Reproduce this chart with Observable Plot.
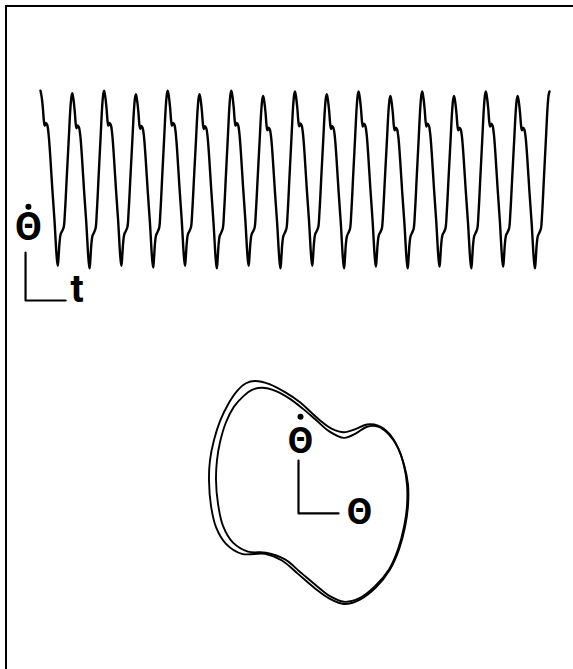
<!DOCTYPE html>
<html>
<head>
<meta charset="utf-8">
<script src="https://cdn.jsdelivr.net/npm/d3@7"></script>
<script src="https://cdn.jsdelivr.net/npm/@observablehq/plot@0.6"></script>
<style>
  body { margin: 0; background: #fff; }
  #fig { position: relative; width: 573px; height: 669px; overflow: hidden; background: #fff; }
  #frame { position: absolute; left: 5px; top: 5px; right: -5px; bottom: -5px;
           border-top: 2px solid #000; border-left: 2px solid #000; }
  #trace { position: absolute; left: 0; top: 0; }
  #phase { position: absolute; left: 0; top: 320px; }
  svg text { font-family: Roboto, "Liberation Sans", Arial, sans-serif; }
</style>
</head>
<body>
<div id="fig">
  <div id="frame"></div>
  <div id="trace"></div>
  <div id="phase"></div>
</div>
<script>
// ---- Angular velocity record, θ̇(t); time in oscillation periods ----
// peak value at each integer time t = 0 … 16
const cyclePeaks = [1.01, 0.98, 1.01, 0.97, 1.01, 0.97, 1.01, 0.95, 1.00, 0.97, 1.00, 0.95, 1.00, 0.95, 1.00, 0.95, 1.00];
// trough value inside each period k (between peak k and peak k+1)
const cycleTroughs = [-0.98, -1.01, -0.98, -1.00, -0.98, -1.01, -0.98, -1.01, -0.98, -1.01, -0.99, -1.01, -0.99, -1.01, -0.99, -1.01];
// shape of one period: phase within the period, and how far the value has
// travelled from the peak toward the trough (0 = peak, 1 = trough)
const shapePhase = [0.000, 0.040, 0.075, 0.110, 0.135, 0.170, 0.210, 0.250, 0.300, 0.370, 0.440, 0.490, 0.520, 0.545,
                    0.570, 0.600, 0.635, 0.680, 0.730, 0.770, 0.830, 0.890, 0.940, 0.975];
const shapeDepth = [0.000, 0.040, 0.100, 0.178, 0.200, 0.184, 0.195, 0.241, 0.356, 0.557, 0.741, 0.902, 0.971, 1.000,
                    0.943, 0.862, 0.816, 0.799, 0.776, 0.684, 0.471, 0.259, 0.086, 0.017];
const troughIndex = shapeDepth.indexOf(1);

// ---- Phase portrait, θ̇ against θ: two successive turns of the limit cycle ----
const outerTheta = [-0.53, -0.38, -0.23, -0.08, 0.03, 0.13, 0.24, 0.36, 0.48, 0.59, 0.70, 0.81, 0.90, 0.96, 1.00, 1.00,
                    0.97, 0.91, 0.82, 0.68, 0.52, 0.36, 0.21, 0.07, -0.10, -0.26, -0.43, -0.66, -0.82, -0.92, -0.97,
                    -0.99, -0.98, -0.94, -0.88, -0.80, -0.71, -0.62];
const outerThetaDot = [1.00, 0.97, 0.90, 0.81, 0.72, 0.64, 0.57, 0.54, 0.57, 0.61, 0.60, 0.53, 0.40, 0.25, 0.07, -0.12,
                       -0.31, -0.51, -0.69, -0.85, -0.96, -1.00, -0.95, -0.86, -0.73, -0.61, -0.55, -0.55, -0.46, -0.31,
                       -0.12, 0.11, 0.29, 0.47, 0.64, 0.79, 0.91, 0.98];
const innerTheta = [-0.46, -0.32, -0.18, -0.05, 0.08, 0.21, 0.36, 0.48, 0.59, 0.70, 0.81, 0.90, 0.96, 0.99, 0.99, 0.96,
                    0.90, 0.81, 0.67, 0.51, 0.36, 0.22, 0.09, -0.07, -0.23, -0.42, -0.60, -0.75, -0.85, -0.90, -0.92,
                    -0.91, -0.88, -0.82, -0.74, -0.65, -0.56];
const innerThetaDot = [0.94, 0.91, 0.84, 0.75, 0.65, 0.55, 0.49, 0.53, 0.59, 0.59, 0.52, 0.40, 0.24, 0.07, -0.12, -0.31,
                       -0.51, -0.69, -0.84, -0.95, -0.98, -0.93, -0.84, -0.72, -0.60, -0.54, -0.53, -0.45, -0.30, -0.10,
                       0.11, 0.29, 0.45, 0.63, 0.77, 0.86, 0.92];

// ---- Axis keys (short L-shaped bars in place of full axes) ----
const traceKey = { t: [-0.47, -0.47, 0.79], v: [-0.83, -1.375, -1.375] };
const traceLabels = [{ t: -0.38, v: -0.54, text: "Θ" }, { t: 1.15, v: -1.25, text: "t" }];
const traceOverdot = [{ t: -0.38, v: -0.31 }];
const phaseKey = { th: [-0.095, -0.095, 0.305], w: [0.287, -0.188, -0.188] };
const phaseLabels = [{ th: -0.075, w: 0.46, text: "Θ" }, { th: 0.515, w: -0.18, text: "Θ" }];
const phaseOverdot = [{ th: -0.075, w: 0.68 }];

// build the time series from the per-period extremes and the period shape
const series = [];
cycleTroughs.forEach((trough, k) => {
  shapePhase.forEach((p, i) => {
    const from = i <= troughIndex ? cyclePeaks[k] : cyclePeaks[k + 1];
    series.push({ t: k + p, v: from + shapeDepth[i] * (trough - from) });
  });
});
series.push({ t: cycleTroughs.length, v: cyclePeaks[cycleTroughs.length] });

const zip = (a, b) => a.map((x, i) => ({ th: x, w: b[i] }));
const outerLoop = zip(outerTheta, outerThetaDot);
const innerLoop = zip(innerTheta, innerThetaDot);
const zipKey = (a, b, ka, kb) => a.map((x, i) => ({ [ka]: x, [kb]: b[i] }));

const tracePlot = Plot.plot({
  width: 573, height: 320,
  marginLeft: 40, marginRight: 24, marginTop: 91, marginBottom: 53,
  x: { domain: [0, 16], axis: null },
  y: { domain: [-1, 1], axis: null },
  marks: [
    Plot.line(series, { x: "t", y: "v", stroke: "#000", strokeWidth: 2.4, curve: "catmull-rom" }),
    Plot.line(zipKey(traceKey.t, traceKey.v, "t", "v"), { x: "t", y: "v", stroke: "#000", strokeWidth: 2.2 }),
    Plot.text(traceLabels, { x: "t", y: "v", text: "text", fontSize: 39, fontWeight: "bold", fill: "#000" }),
    Plot.dot(traceOverdot, { x: "t", y: "v", r: 3, fill: "#000", stroke: null })
  ]
});
document.getElementById("trace").append(tracePlot);

const phasePlot = Plot.plot({
  width: 573, height: 349,
  marginLeft: 207.5, marginRight: 165.5, marginTop: 60.5, marginBottom: 65.5,
  x: { domain: [-1, 1], axis: null },
  y: { domain: [-1, 1], axis: null },
  marks: [
    Plot.line(outerLoop, { x: "th", y: "w", stroke: "#000", strokeWidth: 1.9, curve: "catmull-rom-closed" }),
    Plot.line(innerLoop, { x: "th", y: "w", stroke: "#000", strokeWidth: 1.9, curve: "catmull-rom-closed" }),
    Plot.line(zipKey(phaseKey.th, phaseKey.w, "th", "w"), { x: "th", y: "w", stroke: "#000", strokeWidth: 2.2 }),
    Plot.text(phaseLabels, { x: "th", y: "w", text: "text", fontSize: 37, fontWeight: "bold", fill: "#000" }),
    Plot.dot(phaseOverdot, { x: "th", y: "w", r: 3, fill: "#000", stroke: null })
  ]
});
document.getElementById("phase").append(phasePlot);
</script>
</body>
</html>
